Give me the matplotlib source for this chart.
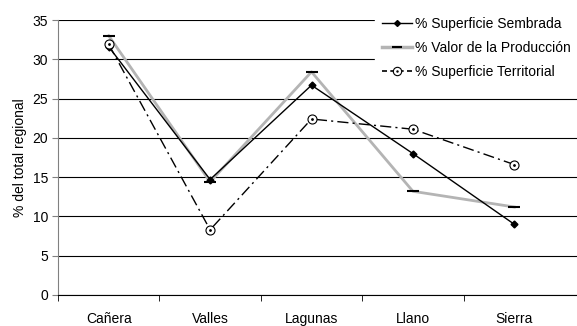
import numpy as np
import matplotlib.pyplot as plt
from matplotlib.lines import Line2D

plt.rcParams['font.family'] = ['Liberation Sans', 'DejaVu Sans']

regions = ['Cañera', 'Valles', 'Lagunas', 'Llano', 'Sierra']
sembrada = [31.6, 14.7, 26.7, 18.0, 9.0]
valor = [33.0, 14.4, 28.4, 13.2, 11.2]
territorial = [31.9, 8.3, 22.4, 21.1, 16.6]

x = np.arange(len(regions))

fig = plt.figure(figsize=(5.77, 3.26), dpi=100)
ax = fig.add_axes([58 / 577, 31 / 326, 519 / 577, 275 / 326])

# gray value line under the others
ax.plot(x, valor, color='#b4b4b4', lw=2, zorder=3)
ax.plot(x, valor, ls='none', marker='_', color='black', ms=8, mew=1.5, zorder=4)
ax.plot(x, sembrada, color='black', lw=1, marker='D', ms=3.5, zorder=5)
ax.plot(x, territorial, color='black', lw=1, ls=(0, (8, 3, 1.5, 3)),
        marker='o', ms=6.5, mfc='white', mec='black', mew=0.8, zorder=5)
ax.plot(x, territorial, ls='none', marker='.', ms=2, color='black', zorder=6)

ax.set_ylim(0, 35)
ax.set_yticks(range(0, 36, 5))
ax.set_xlim(-0.5, 4.5 + 12 / 101.5)
ax.set_xticks(x)
ax.set_xticklabels(regions)
ax.set_xticks(np.arange(-0.5, 4.0, 1.0), minor=True)
ax.tick_params(axis='x', which='major', length=0, pad=12, labelsize=10)
ax.tick_params(axis='x', which='minor', length=4, color='black')
ax.tick_params(axis='y', length=4, color='gray', labelsize=10, pad=3)
ax.set_ylabel('% del total regional', fontsize=10)
ax.yaxis.set_label_coords(-0.059, 0.5)

ax.grid(axis='y', color='black', lw=0.8)
ax.set_axisbelow(True)
for s in ['top', 'right']:
    ax.spines[s].set_visible(False)
ax.spines['left'].set_color('gray')
ax.spines['bottom'].set_color('black')

h1 = Line2D([], [], color='black', lw=1, marker='D', ms=3)
h2 = (Line2D([], [], color='#b4b4b4', lw=2.5),
      Line2D([], [], ls='none', marker='_', color='black', ms=7, mew=1.5))
h3 = (Line2D([], [], color='black', lw=1.2, ls=(0, (3, 2))),
      Line2D([], [], ls='none', marker='o', ms=6, mfc='white', mec='black', mew=0.8),
      Line2D([], [], ls='none', marker='.', ms=1.5, color='black'))
leg = ax.legend([h1, h2, h3],
                ['% Superficie Sembrada', '% Valor de la Producción', '% Superficie Territorial'],
                loc='upper left', bbox_to_anchor=(368 / 577, 1 - 3 / 326),
                bbox_transform=fig.transFigure,
                frameon=True, fancybox=False, framealpha=1, edgecolor='white',
                fontsize=10, handlelength=2.2, handletextpad=0.15, labelspacing=0.72,
                borderpad=0.5)

fig.savefig('out.png', dpi=100)
